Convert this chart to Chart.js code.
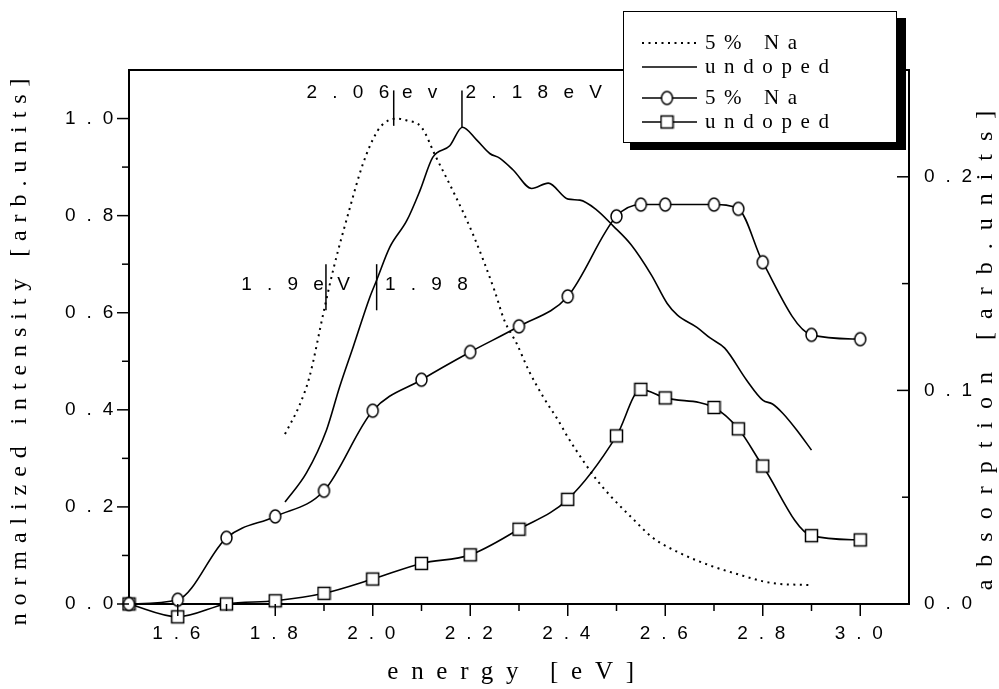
<!DOCTYPE html>
<html>
<head>
<meta charset="utf-8">
<script src="https://cdn.jsdelivr.net/npm/chart.js@4.4.0/dist/chart.umd.min.js"></script>
<style>
  html, body { margin: 0; padding: 0; background: #fff; }
  .chart-wrap { width: 999px; height: 689px; }
</style>
</head>
<body>
<div class="chart-wrap"><canvas id="myChart"></canvas></div>
<script>
// photoluminescence, normalized (left axis)
const plNaX = [1.82, 1.85, 1.87, 1.90, 1.92, 1.95, 1.98, 2.01, 2.03, 2.05, 2.07, 2.10, 2.13, 2.165, 2.205, 2.25, 2.27, 2.295, 2.32, 2.35, 2.38, 2.40, 2.435, 2.46, 2.49, 2.53, 2.575, 2.63, 2.69, 2.74, 2.82, 2.90];
const plNaY = [0.35, 0.41, 0.467, 0.605, 0.693, 0.805, 0.907, 0.975, 0.995, 1.0, 0.996, 0.982, 0.92, 0.85, 0.763, 0.645, 0.584, 0.537, 0.481, 0.426, 0.379, 0.344, 0.29, 0.255, 0.22, 0.179, 0.136, 0.105, 0.08, 0.064, 0.043, 0.039];

const plUndX = [1.82, 1.864, 1.905, 1.932, 1.96, 1.994, 2.008, 2.035, 2.07, 2.097, 2.123, 2.158, 2.184, 2.213, 2.24, 2.261, 2.288, 2.326, 2.36, 2.401, 2.425, 2.459, 2.493, 2.53, 2.572, 2.604, 2.625, 2.665, 2.692, 2.722, 2.767, 2.80, 2.82, 2.841, 2.87, 2.90];
const plUndY = [0.21, 0.27, 0.358, 0.447, 0.53, 0.632, 0.667, 0.735, 0.79, 0.852, 0.92, 0.944, 0.982, 0.956, 0.928, 0.918, 0.894, 0.856, 0.867, 0.834, 0.832, 0.812, 0.779, 0.74, 0.677, 0.619, 0.595, 0.57, 0.548, 0.527, 0.461, 0.42, 0.412, 0.393, 0.358, 0.317];

// absorption (right axis)
const absX = [1.5, 1.6, 1.7, 1.8, 1.9, 2.0, 2.1, 2.2, 2.3, 2.4, 2.5, 2.55, 2.6, 2.7, 2.75, 2.8, 2.9, 3.0];
const absNa = [0, 0.002, 0.031, 0.041, 0.053, 0.0905, 0.105, 0.118, 0.130, 0.144, 0.1815, 0.187, 0.187, 0.187, 0.185, 0.160, 0.126, 0.124];
const absUndoped = [0, -0.006, 0, 0.0015, 0.005, 0.0117, 0.019, 0.023, 0.035, 0.049, 0.0787, 0.1005, 0.0965, 0.092, 0.082, 0.0646, 0.032, 0.030];

// ticks
const xTicks = [1.6, 1.8, 2.0, 2.2, 2.4, 2.6, 2.8, 3.0];
const xMinor = [1.7, 1.9, 2.1, 2.3, 2.5, 2.7, 2.9];
const leftTicks = [0, 0.2, 0.4, 0.6, 0.8, 1.0];
const leftMinor = [0.1, 0.3, 0.5, 0.7, 0.9];
const rightTicks = [0, 0.1, 0.2];
const rightMinor = [0.05, 0.15];

// peak markers: energy, top and bottom (left axis units)
const markX = [2.043, 2.183, 1.904, 2.008];
const markTop = [1.058, 1.058, 0.70, 0.70];
const markBottom = [0.985, 0.981, 0.605, 0.605];
// peak labels: text, energy of left edge, height (left axis units)
const noteText = ['2 . 0 6', 'e v', '2 . 1 8 e V', '1 . 9 e', 'V', '1 . 9 8'];
const noteX = [1.864, 2.06, 2.19, 1.73, 1.927, 2.025];
const noteY = [1.053, 1.053, 1.053, 0.657, 0.657, 0.657];

const toPoints = (xs, ys) => xs.map((x, i) => ({ x: x, y: ys[i] }));
const spaced = v => v.toFixed(1).split('').join(' ');

function makeMarker(kind) {
  const c = document.createElement('canvas');
  c.width = 15;
  c.height = 17;
  const g = c.getContext('2d');
  g.fillStyle = '#fff';
  g.strokeStyle = '#000';
  g.lineWidth = 1.5;
  g.beginPath();
  if (kind === 'circle') {
    g.ellipse(7.5, 8.5, 5.5, 6.5, 0, 0, Math.PI * 2);
  } else {
    g.rect(1.5, 2.5, 12, 12);
  }
  g.fill();
  g.stroke();
  return c;
}

const circleMark = makeMarker('circle');
const squareMark = makeMarker('square');

const serif = '"Liberation Serif", "Times New Roman", serif';
const sans = '"Liberation Sans", Arial, sans-serif';
const tickFont = { family: sans, size: 19 };

const decorations = {
  id: 'decorations',
  beforeDraw(chart) {
    chart.ctx.letterSpacing = '2.8px';
  },
  afterDraw(chart) {
    const { ctx, chartArea: a, scales } = chart;
    ctx.save();
    ctx.letterSpacing = '0px';
    ctx.strokeStyle = '#000';
    ctx.fillStyle = '#000';

    // top frame line
    ctx.lineWidth = 2;
    ctx.beginPath();
    ctx.moveTo(a.left - 1, a.top);
    ctx.lineTo(a.right + 1, a.top);
    ctx.stroke();

    // tick marks
    ctx.lineWidth = 1.5;
    const tickX = (v, len) => {
      const p = scales.x.getPixelForValue(v);
      ctx.beginPath(); ctx.moveTo(p, a.bottom); ctx.lineTo(p, a.bottom + len); ctx.stroke();
    };
    const tickL = (v, len) => {
      const p = scales.y.getPixelForValue(v);
      ctx.beginPath(); ctx.moveTo(a.left - len, p); ctx.lineTo(a.left, p); ctx.stroke();
    };
    const tickR = (v, len) => {
      const p = scales.y1.getPixelForValue(v);
      ctx.beginPath(); ctx.moveTo(a.right - len, p); ctx.lineTo(a.right, p); ctx.stroke();
    };
    xTicks.forEach(v => tickX(v, 12));
    xMinor.forEach(v => tickX(v, 7));
    leftTicks.forEach(v => tickL(v, 12));
    leftMinor.forEach(v => tickL(v, 7));
    rightTicks.forEach(v => tickR(v, 12));
    rightMinor.forEach(v => tickR(v, 7));

    // peak markers
    ctx.lineWidth = 1.5;
    markX.forEach((v, i) => {
      const px = scales.x.getPixelForValue(v);
      ctx.beginPath();
      ctx.moveTo(px, scales.y.getPixelForValue(markTop[i]));
      ctx.lineTo(px, scales.y.getPixelForValue(markBottom[i]));
      ctx.stroke();
    });
    ctx.font = '19px ' + sans;
    ctx.letterSpacing = '5px';
    ctx.textAlign = 'left';
    ctx.textBaseline = 'middle';
    noteText.forEach((t, i) => {
      ctx.fillText(t, scales.x.getPixelForValue(noteX[i]), scales.y.getPixelForValue(noteY[i]));
    });

    // axis titles
    ctx.textAlign = 'center';
    ctx.font = '25px ' + serif;
    ctx.letterSpacing = '12.7px';
    ctx.fillText('energy [eV]', 517, 672);

    ctx.font = '24px ' + serif;
    ctx.letterSpacing = '7.9px';
    ctx.save();
    ctx.translate(20, 348);
    ctx.rotate(-Math.PI / 2);
    ctx.fillText('normalized intensity [arb.units]', 0, 0);
    ctx.restore();

    ctx.letterSpacing = '13px';
    ctx.save();
    ctx.translate(986, 344);
    ctx.rotate(-Math.PI / 2);
    ctx.fillText('absorption [arb.units]', 0, 0);
    ctx.restore();

    // legend box with shadow
    const box = { x: 623, y: 11, w: 274, h: 132 };
    ctx.fillStyle = '#000';
    ctx.fillRect(box.x + 7, box.y + 7, box.w + 2, box.h);
    ctx.fillStyle = '#fff';
    ctx.fillRect(box.x, box.y, box.w, box.h);
    ctx.lineWidth = 1;
    ctx.strokeStyle = '#000';
    ctx.strokeRect(box.x + 0.5, box.y + 0.5, box.w - 1, box.h - 1);

    const rowY = [43, 67, 98, 122];
    ctx.font = '21px ' + serif;
    ctx.letterSpacing = '8.6px';
    ctx.textAlign = 'left';
    ctx.fillStyle = '#000';
    chart.data.datasets.forEach((ds, i) => {
      const y = rowY[i];
      ctx.save();
      ctx.lineWidth = ds.borderWidth;
      ctx.setLineDash(ds.borderDash || []);
      ctx.beginPath();
      ctx.moveTo(642, y);
      ctx.lineTo(697, y);
      ctx.stroke();
      ctx.restore();
      if (ds.pointRadius > 0) {
        const m = ds.pointStyle;
        ctx.drawImage(m, 667 - m.width / 2, y - m.height / 2);
      }
      ctx.fillText(ds.label, 705, y);
    });

    ctx.restore();
  }
};

const data = {
  datasets: [{
    label: '5% Na',
    data: toPoints(plNaX, plNaY),
    yAxisID: 'y',
    borderColor: '#000',
    borderWidth: 2,
    borderDash: [2, 4.5],
    pointRadius: 0,
    cubicInterpolationMode: 'monotone',
    clip: false
  }, {
    label: 'undoped',
    data: toPoints(plUndX, plUndY),
    yAxisID: 'y',
    borderColor: '#000',
    borderWidth: 1.6,
    pointRadius: 0,
    cubicInterpolationMode: 'monotone',
    clip: false
  }, {
    label: '5% Na',
    data: toPoints(absX, absNa),
    yAxisID: 'y1',
    borderColor: '#000',
    borderWidth: 1.6,
    pointStyle: circleMark,
    pointRadius: 16,
    cubicInterpolationMode: 'monotone',
    clip: false
  }, {
    label: 'undoped',
    data: toPoints(absX, absUndoped),
    yAxisID: 'y1',
    borderColor: '#000',
    borderWidth: 1.6,
    pointStyle: squareMark,
    pointRadius: 16,
    cubicInterpolationMode: 'monotone',
    clip: false
  }]
};

const config = {
  type: 'line',
  data: data,
  options: {
    responsive: true,
    maintainAspectRatio: false,
    animation: false,
    devicePixelRatio: 1,
    layout: { padding: { top: 70, left: 0, right: 0, bottom: 0 } },
    plugins: {
      legend: { display: false },
      tooltip: { enabled: false }
    },
    scales: {
      x: {
        type: 'linear',
        min: 1.5,
        max: 3.1,
        afterBuildTicks: s => { s.ticks = xTicks.map(v => ({ value: v })); },
        afterFit: s => { s.height = 85; },
        grid: { display: false, drawTicks: false },
        border: { color: '#000', width: 2 },
        ticks: { color: '#000', font: tickFont, padding: 18, maxRotation: 0, autoSkip: false, callback: v => spaced(v) }
      },
      y: {
        position: 'left',
        min: 0,
        max: 1.1,
        afterBuildTicks: s => { s.ticks = leftTicks.map(v => ({ value: v })); },
        afterFit: s => { s.width = 129; },
        grid: { display: false, drawTicks: false },
        border: { color: '#000', width: 2 },
        ticks: { color: '#000', font: tickFont, padding: 13, callback: v => spaced(v) }
      },
      y1: {
        position: 'right',
        min: 0,
        max: 0.25,
        afterBuildTicks: s => { s.ticks = rightTicks.map(v => ({ value: v })); },
        afterFit: s => { s.width = 90; },
        grid: { display: false, drawTicks: false },
        border: { color: '#000', width: 2 },
        ticks: { color: '#000', font: tickFont, padding: 15, callback: v => spaced(v) }
      }
    }
  },
  plugins: [decorations]
};

const myChart = new Chart(document.getElementById('myChart'), config);
</script>
</body>
</html>
